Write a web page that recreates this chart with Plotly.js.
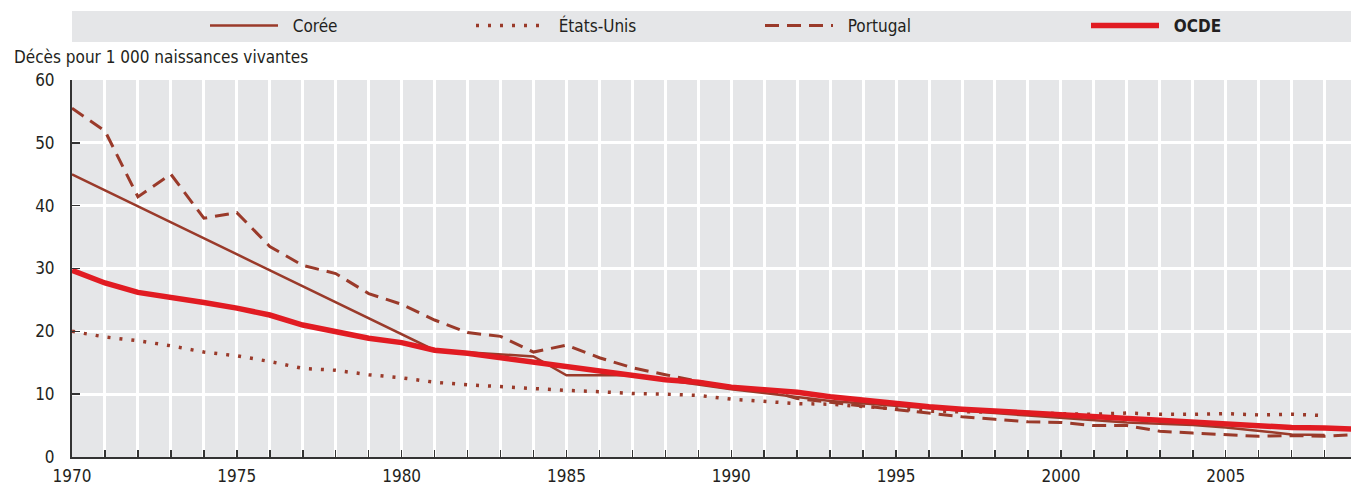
<!DOCTYPE html>
<html>
<head>
<meta charset="utf-8">
<script src="https://cdn.plot.ly/plotly-3.0.1.min.js"></script>
<style>
html,body{margin:0;padding:0;background:#fff;}
#chart{width:1351px;height:489px;}
</style>
</head>
<body>
<div id="chart"></div>
<script>
// ---- Data ----
const years = [1970,1971,1972,1973,1974,1975,1976,1977,1978,1979,1980,1981,1982,1983,1984,1985,1986,1987,1988,1989,1990,1991,1992,1993,1994,1995,1996,1997,1998,1999,2000,2001,2002,2003,2004,2005,2006,2007,2008,2009];

const coreeYears  = [1970,1981,1984,1985,1987,1988,1990,1993,1996,1999,2002,2003,2004,2005,2006,2007,2008];
const coreeValues = [45.0,17.0,16.0,13.0,13.0,12.3,10.8,8.9,7.7,6.6,5.5,5.3,5.1,4.7,4.1,3.6,3.5];

const usYears  = years.slice(0, 39);
const usValues = [20.0,19.1,18.5,17.7,16.7,16.1,15.2,14.1,13.8,13.1,12.6,11.9,11.5,11.2,10.8,10.6,10.4,10.1,10.0,9.8,9.2,8.9,8.5,8.4,8.0,7.6,7.3,7.2,7.2,7.1,6.9,6.8,7.0,6.8,6.8,6.9,6.7,6.8,6.6];

const portugalValues = [55.5,51.9,41.4,45.0,38.0,38.9,33.5,30.5,29.2,26.0,24.3,21.8,19.8,19.2,16.7,17.8,15.8,14.2,13.1,12.1,11.0,10.8,9.3,8.7,8.1,7.5,6.9,6.4,6.0,5.6,5.5,5.0,5.0,4.1,3.8,3.5,3.3,3.4,3.3,3.6];

const ocdeValues = [29.7,27.7,26.2,25.5,24.6,23.7,22.6,21.0,20.0,18.9,18.2,17.0,16.5,15.8,15.0,14.3,13.6,13.1,12.3,11.9,11.1,10.7,10.3,9.6,9.0,8.6,8.0,7.6,7.3,6.9,6.6,6.3,6.0,5.8,5.5,5.2,4.9,4.7,4.6,4.4];

const seriesNames = ['Corée', 'États-Unis', 'Portugal', '<b>OCDE</b>'];
const yTitle = 'Décès pour 1 000 naissances vivantes';

// ---- Styles ----
const FONT = '"DejaVu Sans Condensed", "Roboto", sans-serif';
const BROWN = '#9a3a2a';
const RED = '#e11b22';
const TXT = '#231f20';
const BG = '#e5e6e8';
const PADNAME = '\u00a0\u00a0';

const traces = [
  {x: coreeYears, y: coreeValues, name: PADNAME + seriesNames[0], mode: 'lines', legend: 'legend',
   line: {color: BROWN, width: 2.5}},
  {x: usYears, y: usValues, name: PADNAME + seriesNames[1], mode: 'lines', legend: 'legend2',
   line: {color: BROWN, width: 3.5, dash: '3px,9px'}},
  {x: years, y: portugalValues, name: PADNAME + seriesNames[2], mode: 'lines', legend: 'legend3',
   line: {color: BROWN, width: 3, dash: '14px,8px'}},
  {x: years, y: ocdeValues, name: PADNAME + seriesNames[3], mode: 'lines', legend: 'legend4',
   line: {color: RED, width: 5.5}}
];

const H = 377, W = 1279;
const legY = (457 - 26) / H;
function leg(px) {
  return {x: (px - 72) / W, xanchor: 'left', y: legY, yanchor: 'middle',
          orientation: 'h', bgcolor: 'rgba(0,0,0,0)', borderwidth: 0,
          font: {family: FONT, size: 17, color: TXT}, itemwidth: 68};
}

const layout = {
  width: 1351, height: 489,
  margin: {l: 72, r: 0, t: 80, b: 32, pad: 0},
  paper_bgcolor: '#ffffff',
  plot_bgcolor: BG,
  font: {family: FONT, size: 17, color: TXT},
  showlegend: true,
  legend: leg(205),
  legend2: leg(471),
  legend3: leg(760),
  legend4: leg(1086),
  xaxis: {
    range: [1970, 2008.8], dtick: 5, tick0: 1970,
    showgrid: true, gridcolor: '#ffffff', gridwidth: 3,
    ticks: 'inside', ticklen: 7, tickwidth: 1.5, tickcolor: '#333333',
    minor: {dtick: 1, ticks: 'inside', ticklen: 7, tickwidth: 1.5, tickcolor: '#333333',
            showgrid: true, gridcolor: '#ffffff', gridwidth: 3},
    showline: true, linecolor: '#333333', linewidth: 2,
    zeroline: false, tickfont: {family: FONT, size: 17, color: TXT},
    ticklabelstandoff: 3,
    fixedrange: true
  },
  yaxis: {
    range: [0, 60], dtick: 10,
    showgrid: true, gridcolor: '#ffffff', gridwidth: 3,
    ticks: 'inside', ticklen: 8, tickwidth: 1.5, tickcolor: '#333333',
    showline: true, linecolor: '#333333', linewidth: 2,
    zeroline: false, tickfont: {family: FONT, size: 17, color: TXT},
    ticklabelstandoff: 12,
    fixedrange: true
  },
  shapes: [
    {type: 'rect', xref: 'paper', yref: 'paper', layer: 'below',
     x0: 0, x1: 1, y0: (457 - 42) / H, y1: (457 - 11) / H,
     fillcolor: BG, line: {width: 0}}
  ],
  annotations: [
    {text: yTitle, xref: 'paper', yref: 'paper', x: (12 - 72) / W, xanchor: 'left',
     y: (457 - 57) / H, yanchor: 'middle', showarrow: false,
     font: {family: FONT, size: 17, color: TXT}}
  ]
};

Plotly.newPlot('chart', traces, layout, {displayModeBar: false, staticPlot: true});
</script>
</body>
</html>
